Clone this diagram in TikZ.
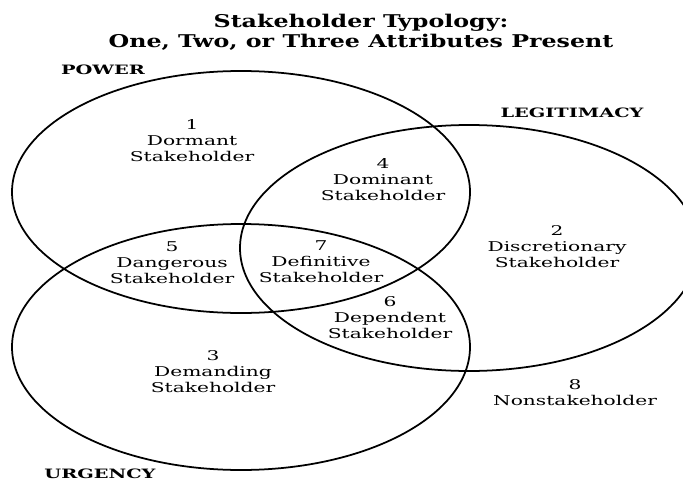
\documentclass[tikz,border=0pt]{standalone}
\usepackage{fontspec}
\setmainfont{DejaVu Serif}
\newfontfamily\lblfont{DejaVu Serif}[FakeStretch=1.5]
\newfontfamily\ttlfont{DejaVu Serif}[FakeStretch=1.35]
\begin{document}
\begin{tikzpicture}[x=0.03cm,y=0.03cm,
    ring/.style={line width=1.5pt},
    lbl/.style={align=center,font=\lblfont\fontsize{11.5}{13.6}\selectfont},
    attr/.style={font=\lblfont\fontsize{11}{12}\selectfont\bfseries}]
        \clip (0,0) rectangle (683,-481);
        \node[align=center,font=\ttlfont\fontsize{15}{17}\selectfont\bfseries] (title) at (361,-32) {Stakeholder Typology:\\One, Two, or Three Attributes Present};
        \draw[style = ring] (241,-192) ellipse [x radius=229, y radius=121];
        \draw[style = ring] (469,-248) ellipse [x radius=229, y radius=123];
        \draw[style = ring] (241,-347) ellipse [x radius=229, y radius=123];
        \node[attr] (power) at (103,-70) {POWER};
        \node[attr] (legitimacy) at (572,-113) {LEGITIMACY};
        \node[attr] (urgency) at (100,-474) {URGENCY};
        \node[lbl] (dormant) at (192,-141) {1\\Dormant\\Stakeholder};
        \node[lbl] (dominant) at (383,-180) {4\\Dominant\\Stakeholder};
        \node[lbl] (discretionary) at (557,-247) {2\\Discretionary\\Stakeholder};
        \node[lbl] (dangerous) at (172,-263) {5\\Dangerous\\Stakeholder};
        \node[lbl] (definitive) at (321,-262) {7\\Definitive\\Stakeholder};
        \node[lbl] (dependent) at (390,-318) {6\\Dependent\\Stakeholder};
        \node[lbl] (demanding) at (213,-372) {3\\Demanding\\Stakeholder};
        \node[lbl] (nonstakeholder) at (575,-393) {8\\Nonstakeholder};
    \end{tikzpicture}
\end{document}
